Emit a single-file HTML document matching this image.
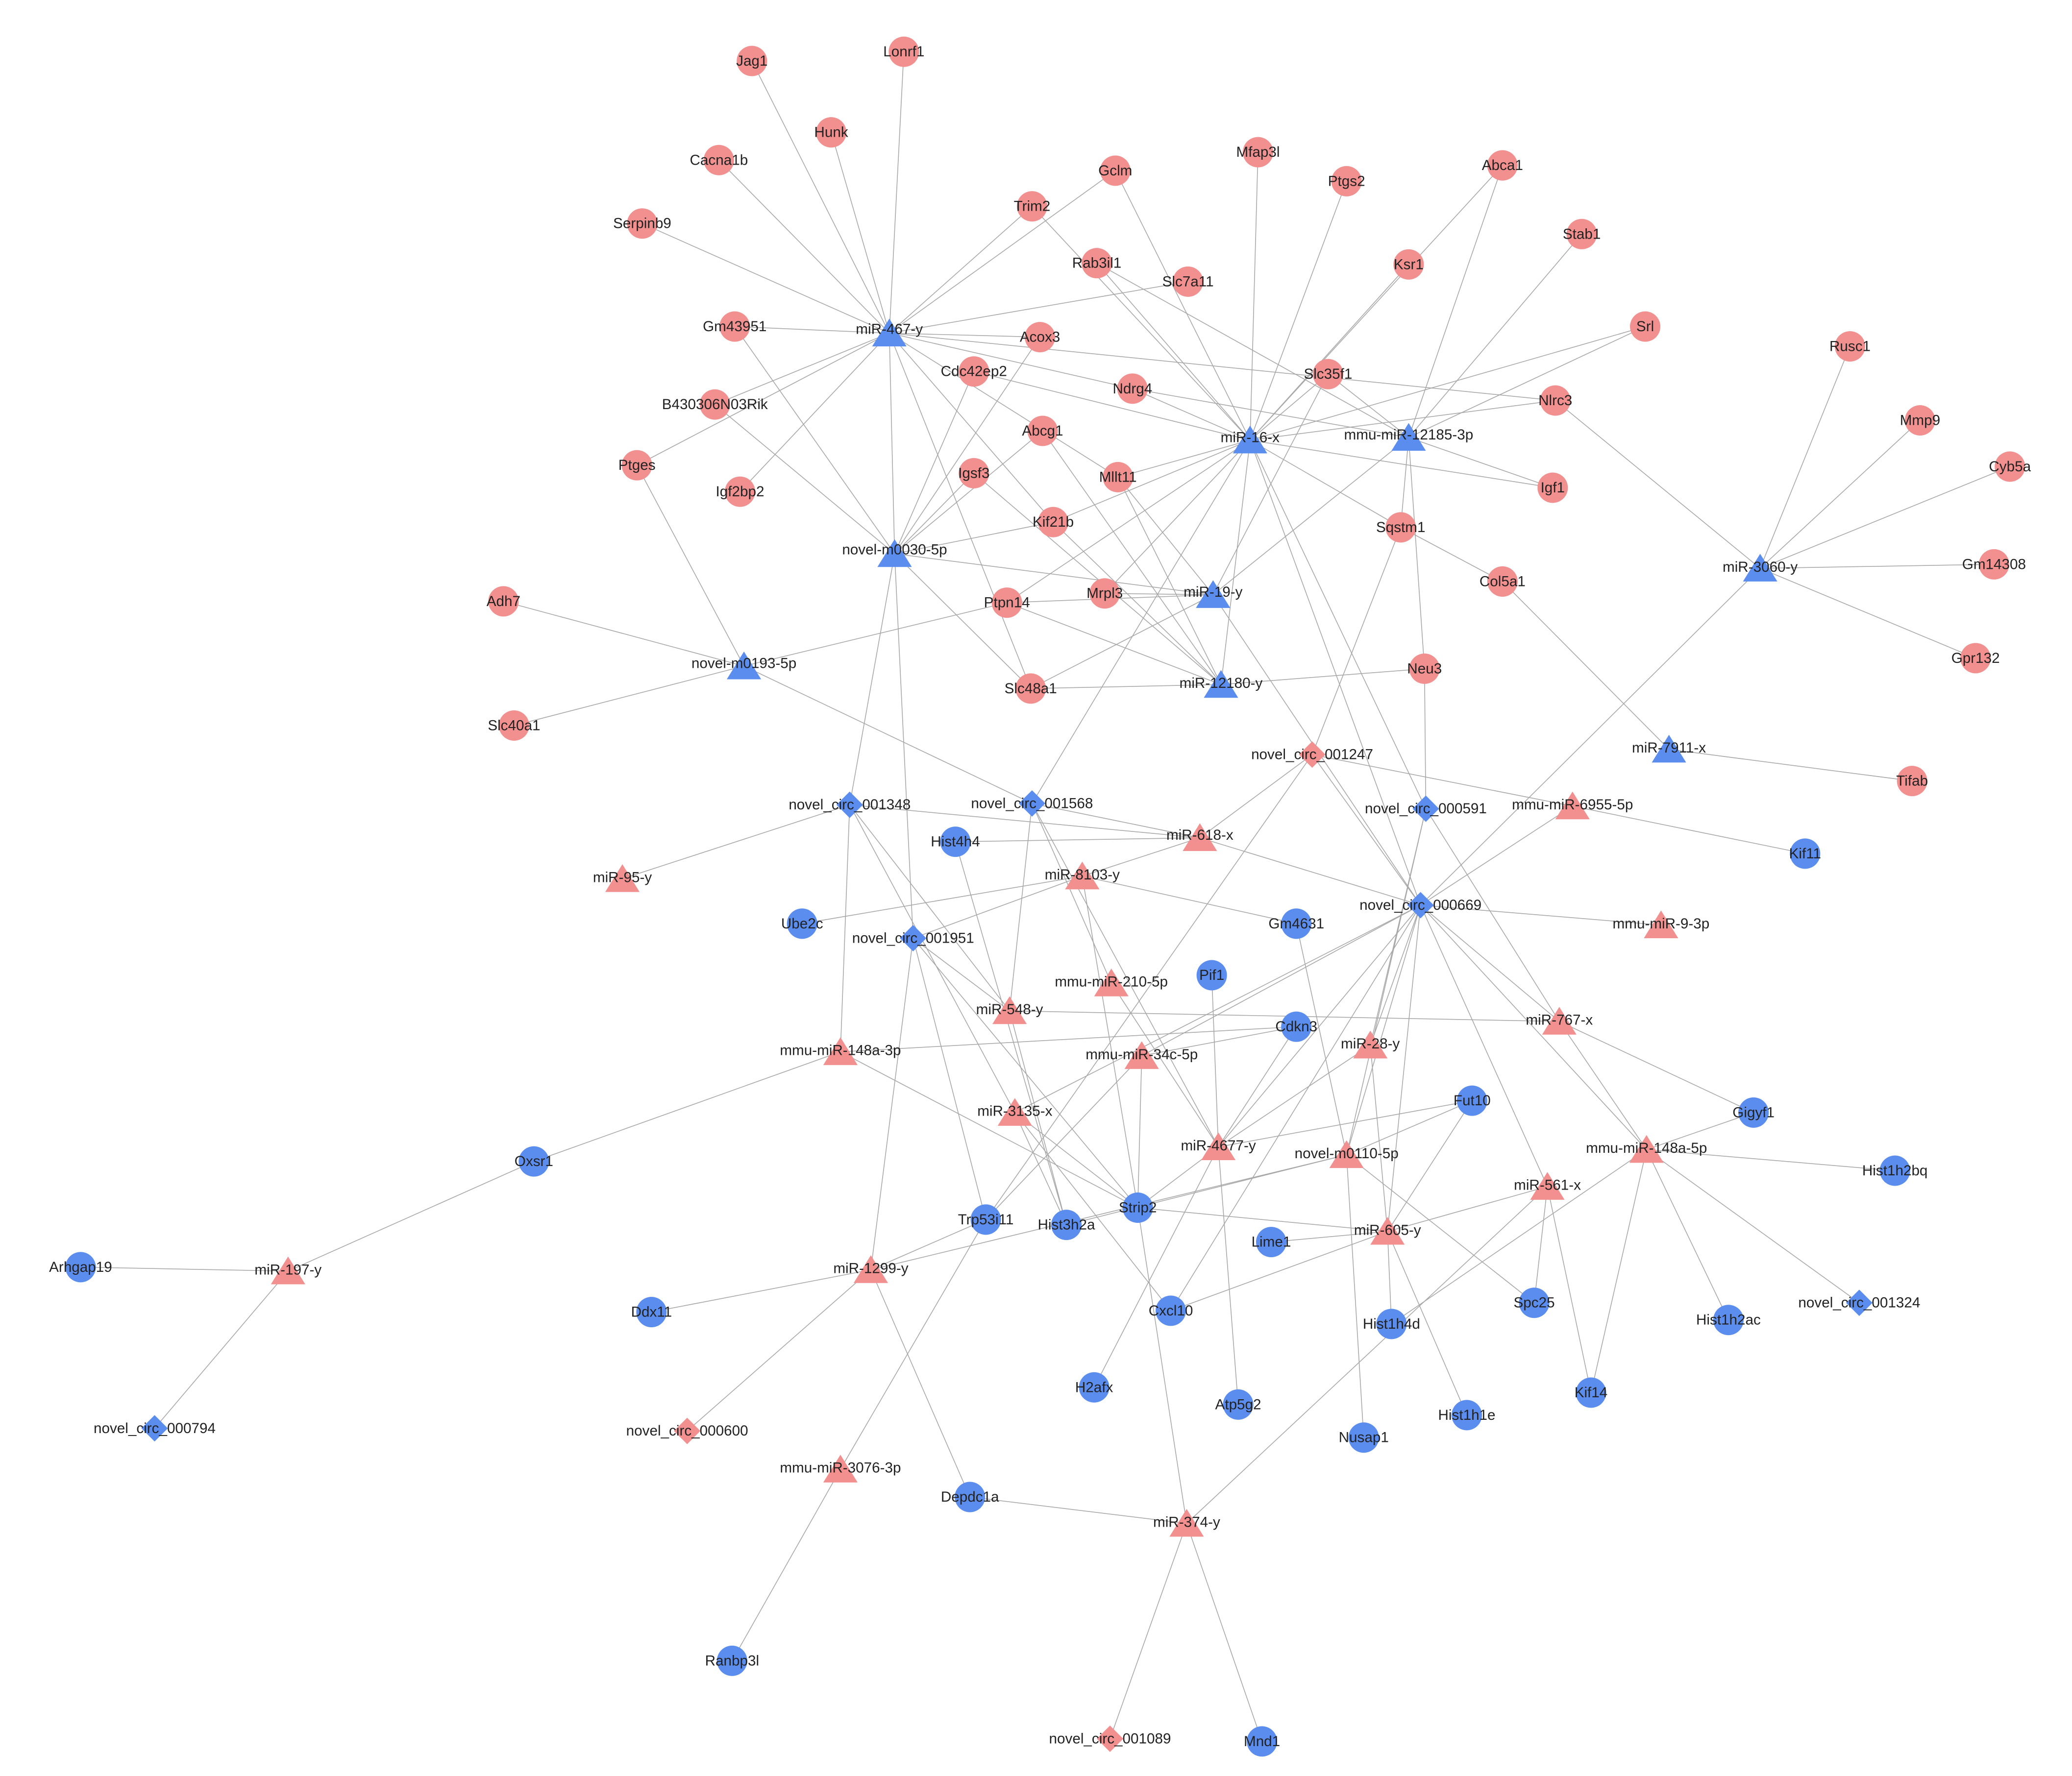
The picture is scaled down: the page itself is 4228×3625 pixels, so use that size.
<!DOCTYPE html>
<html><head><meta charset="utf-8"><style>html,body{margin:0;padding:0;background:#fff}svg{display:block}</style></head><body>
<svg width="4228" height="3625" viewBox="0 0 1568 1344" xmlns="http://www.w3.org/2000/svg" font-family="Liberation Sans, Arial, sans-serif" font-size="11">
<rect width="1568" height="1344" fill="#fff"/>
<g stroke="#a8a8a8" stroke-width="0.6">
<!-- miR-467-y -->
<line x1="673" y1="252" x2="569" y2="46"/><line x1="673" y1="252" x2="684" y2="39"/><line x1="673" y1="252" x2="629" y2="100"/><line x1="673" y1="252" x2="544" y2="121"/><line x1="673" y1="252" x2="486" y2="169"/><line x1="673" y1="252" x2="844" y2="129"/><line x1="673" y1="252" x2="781" y2="156"/><line x1="673" y1="252" x2="899" y2="213"/><line x1="673" y1="252" x2="556" y2="247"/><line x1="673" y1="252" x2="787" y2="255"/><line x1="673" y1="252" x2="857" y2="294"/><line x1="673" y1="252" x2="1177" y2="303"/><line x1="673" y1="252" x2="541" y2="306"/><line x1="673" y1="252" x2="482" y2="352"/><line x1="673" y1="252" x2="560" y2="372"/><line x1="673" y1="252" x2="797" y2="395"/><line x1="673" y1="252" x2="846" y2="361"/><line x1="673" y1="252" x2="780" y2="521"/><line x1="673" y1="252" x2="677" y2="419"/>
<!-- miR-16-x -->
<line x1="946" y1="333" x2="952" y2="115"/><line x1="946" y1="333" x2="1019" y2="137"/><line x1="946" y1="333" x2="1137" y2="125"/><line x1="946" y1="333" x2="830" y2="199"/><line x1="946" y1="333" x2="781" y2="156"/><line x1="946" y1="333" x2="844" y2="129"/><line x1="946" y1="333" x2="1066" y2="200"/><line x1="946" y1="333" x2="1005" y2="283"/><line x1="946" y1="333" x2="857" y2="294"/><line x1="946" y1="333" x2="737" y2="281"/><line x1="946" y1="333" x2="1177" y2="303"/><line x1="946" y1="333" x2="1175" y2="369"/><line x1="946" y1="333" x2="1060" y2="399"/><line x1="946" y1="333" x2="846" y2="361"/><line x1="946" y1="333" x2="797" y2="395"/><line x1="946" y1="333" x2="836" y2="449"/><line x1="946" y1="333" x2="762" y2="456"/><line x1="946" y1="333" x2="781" y2="608"/><line x1="946" y1="333" x2="1075" y2="685"/><line x1="946" y1="333" x2="924" y2="518"/><line x1="946" y1="333" x2="1245" y2="247"/>
<!-- 12185 -->
<line x1="1066" y1="331" x2="1245" y2="247"/><line x1="1066" y1="331" x2="1197" y2="177"/><line x1="1066" y1="331" x2="1005" y2="283"/><line x1="1066" y1="331" x2="830" y2="199"/><line x1="1066" y1="331" x2="857" y2="294"/><line x1="1066" y1="331" x2="1060" y2="399"/><line x1="1066" y1="331" x2="1175" y2="369"/><line x1="1066" y1="331" x2="918" y2="450"/><line x1="1066" y1="331" x2="1137" y2="125"/><line x1="1066" y1="331" x2="1078" y2="506"/>
<!-- m0030 -->
<line x1="677" y1="419" x2="556" y2="247"/><line x1="677" y1="419" x2="541" y2="306"/><line x1="677" y1="419" x2="737" y2="281"/><line x1="677" y1="419" x2="787" y2="255"/><line x1="677" y1="419" x2="789" y2="326"/><line x1="677" y1="419" x2="737" y2="358"/><line x1="677" y1="419" x2="797" y2="395"/><line x1="677" y1="419" x2="918" y2="450"/><line x1="677" y1="419" x2="780" y2="521"/><line x1="677" y1="419" x2="643" y2="609"/><line x1="677" y1="419" x2="691" y2="710"/>
<!-- m0193 -->
<line x1="563" y1="504" x2="381" y2="455"/><line x1="563" y1="504" x2="389" y2="549"/><line x1="563" y1="504" x2="482" y2="352"/><line x1="563" y1="504" x2="762" y2="456"/><line x1="563" y1="504" x2="781" y2="608"/>
<!-- miR-19 -->
<line x1="918" y1="450" x2="762" y2="456"/><line x1="918" y1="450" x2="836" y2="449"/><line x1="918" y1="450" x2="780" y2="521"/><line x1="918" y1="450" x2="846" y2="361"/><line x1="918" y1="450" x2="1075" y2="685"/><line x1="918" y1="450" x2="1005" y2="283"/>
<!-- 12180 -->
<line x1="924" y1="518" x2="780" y2="521"/><line x1="924" y1="518" x2="1078" y2="506"/><line x1="924" y1="518" x2="762" y2="456"/><line x1="924" y1="518" x2="789" y2="326"/><line x1="924" y1="518" x2="737" y2="358"/><line x1="924" y1="518" x2="846" y2="361"/><line x1="924" y1="518" x2="797" y2="395"/>
<!-- 3060 -->
<line x1="1332" y1="430" x2="1400" y2="262"/><line x1="1332" y1="430" x2="1453" y2="318"/><line x1="1332" y1="430" x2="1521" y2="353"/><line x1="1332" y1="430" x2="1509" y2="427"/><line x1="1332" y1="430" x2="1495" y2="498"/><line x1="1332" y1="430" x2="1177" y2="303"/><line x1="1332" y1="430" x2="1075" y2="685"/>
<!-- 7911 -->
<line x1="1263" y1="567" x2="1447" y2="591"/><line x1="1263" y1="567" x2="1137" y2="440"/><line x1="1060" y1="399" x2="1137" y2="440"/><line x1="1078" y1="506" x2="1079" y2="612"/>
<!-- circ 001247 -->
<line x1="993" y1="571" x2="1060" y2="399"/><line x1="993" y1="571" x2="1190" y2="610"/><line x1="993" y1="571" x2="908" y2="634"/><line x1="993" y1="571" x2="746" y2="923"/><line x1="993" y1="571" x2="1075" y2="685"/>
<!-- 000669 -->
<line x1="1075" y1="685" x2="1190" y2="610"/><line x1="1075" y1="685" x2="1257" y2="700"/><line x1="1075" y1="685" x2="1180" y2="773"/><line x1="1075" y1="685" x2="1037" y2="791"/><line x1="1075" y1="685" x2="922" y2="868"/><line x1="1075" y1="685" x2="1050" y2="932"/><line x1="1075" y1="685" x2="1171" y2="898"/><line x1="1075" y1="685" x2="768" y2="842"/><line x1="1075" y1="685" x2="1246" y2="870"/><line x1="1075" y1="685" x2="1019" y2="874"/><line x1="1075" y1="685" x2="908" y2="634"/><line x1="1075" y1="685" x2="864" y2="799"/>
<!-- 000591 -->
<line x1="1079" y1="612" x2="1037" y2="791"/><line x1="1079" y1="612" x2="1019" y2="874"/><line x1="1079" y1="612" x2="1180" y2="773"/><line x1="1079" y1="612" x2="946" y2="333"/>
<!-- 001348 -->
<line x1="643" y1="609" x2="471" y2="665"/><line x1="643" y1="609" x2="908" y2="634"/><line x1="643" y1="609" x2="636" y2="796"/><line x1="643" y1="609" x2="768" y2="842"/><line x1="643" y1="609" x2="764" y2="765"/>
<!-- 001568 -->
<line x1="781" y1="608" x2="908" y2="634"/><line x1="781" y1="608" x2="764" y2="765"/><line x1="781" y1="608" x2="922" y2="868"/><line x1="781" y1="608" x2="841" y2="744"/>
<!-- 001951 -->
<line x1="691" y1="710" x2="819" y2="663"/><line x1="691" y1="710" x2="764" y2="765"/><line x1="691" y1="710" x2="659" y2="961"/><line x1="691" y1="710" x2="861" y2="914"/><line x1="691" y1="710" x2="746" y2="923"/>
<!-- 8103 -->
<line x1="819" y1="663" x2="607" y2="699"/><line x1="819" y1="663" x2="981" y2="699"/><line x1="819" y1="663" x2="908" y2="634"/><line x1="819" y1="663" x2="861" y2="914"/>
<line x1="1190" y1="610" x2="1366" y2="646"/>
<line x1="723" y1="637" x2="908" y2="634"/><line x1="723" y1="637" x2="807" y2="927"/>
<line x1="764" y1="765" x2="1180" y2="773"/><line x1="764" y1="765" x2="807" y2="927"/>
<line x1="1180" y1="773" x2="1327" y2="842"/><line x1="1180" y1="773" x2="1246" y2="870"/>
<line x1="636" y1="796" x2="404" y2="879"/><line x1="636" y1="796" x2="861" y2="914"/><line x1="636" y1="796" x2="981" y2="777"/>
<line x1="404" y1="879" x2="218" y2="962"/><line x1="218" y1="962" x2="61" y2="959"/><line x1="218" y1="962" x2="117" y2="1081"/>
<line x1="768" y1="842" x2="861" y2="914"/><line x1="768" y1="842" x2="886" y2="992"/><line x1="768" y1="842" x2="807" y2="927"/>
<line x1="864" y1="799" x2="861" y2="914"/><line x1="864" y1="799" x2="746" y2="923"/><line x1="864" y1="799" x2="981" y2="777"/>
<line x1="922" y1="868" x2="917" y2="738"/><line x1="922" y1="868" x2="981" y2="777"/><line x1="922" y1="868" x2="841" y2="744"/><line x1="922" y1="868" x2="828" y2="1050"/><line x1="922" y1="868" x2="861" y2="914"/><line x1="922" y1="868" x2="1037" y2="791"/><line x1="922" y1="868" x2="1114" y2="833"/>
<line x1="1019" y1="874" x2="981" y2="699"/><line x1="1019" y1="874" x2="1114" y2="833"/><line x1="1019" y1="874" x2="1032" y2="1088"/><line x1="1019" y1="874" x2="807" y2="927"/><line x1="1019" y1="874" x2="1161" y2="986"/>
<line x1="1050" y1="932" x2="1114" y2="833"/><line x1="1050" y1="932" x2="886" y2="992"/><line x1="1050" y1="932" x2="1053" y2="1002"/><line x1="1050" y1="932" x2="1110" y2="1071"/><line x1="1050" y1="932" x2="1171" y2="898"/><line x1="1050" y1="932" x2="861" y2="914"/><line x1="1050" y1="932" x2="1037" y2="791"/><line x1="1050" y1="932" x2="962" y2="940"/>
<line x1="1171" y1="898" x2="1204" y2="1054"/><line x1="1171" y1="898" x2="1161" y2="986"/><line x1="1171" y1="898" x2="898" y2="1153"/>
<line x1="1246" y1="870" x2="1434" y2="886"/><line x1="1246" y1="870" x2="1308" y2="999"/><line x1="1246" y1="870" x2="1407" y2="986"/><line x1="1246" y1="870" x2="1327" y2="842"/><line x1="1246" y1="870" x2="1204" y2="1054"/><line x1="1246" y1="870" x2="1053" y2="1002"/>
<line x1="659" y1="961" x2="493" y2="993"/><line x1="659" y1="961" x2="520" y2="1083"/><line x1="659" y1="961" x2="734" y2="1133"/><line x1="659" y1="961" x2="746" y2="923"/><line x1="659" y1="961" x2="1019" y2="874"/>
<line x1="636" y1="1112" x2="554" y2="1257"/><line x1="636" y1="1112" x2="746" y2="923"/>
<line x1="898" y1="1153" x2="734" y2="1133"/><line x1="898" y1="1153" x2="840" y2="1316"/><line x1="898" y1="1153" x2="955" y2="1318"/><line x1="898" y1="1153" x2="861" y2="914"/>
<line x1="937" y1="1063" x2="922" y2="868"/><line x1="886" y1="992" x2="1075" y2="685"/>
</g>
<g fill="#f28f8f">
<circle cx="569" cy="46" r="11.5"/><circle cx="684" cy="39" r="11.5"/><circle cx="629" cy="100" r="11.5"/><circle cx="544" cy="121" r="11.5"/><circle cx="486" cy="169" r="11.5"/><circle cx="844" cy="129" r="11.5"/><circle cx="781" cy="156" r="11.5"/><circle cx="952" cy="115" r="11.5"/><circle cx="1019" cy="137" r="11.5"/><circle cx="1137" cy="125" r="11.5"/><circle cx="830" cy="199" r="11.5"/><circle cx="899" cy="213" r="11.5"/><circle cx="1066" cy="200" r="11.5"/><circle cx="1197" cy="177" r="11.5"/><circle cx="1245" cy="247" r="11.5"/><circle cx="556" cy="247" r="11.5"/><circle cx="787" cy="255" r="11.5"/><circle cx="737" cy="281" r="11.5"/><circle cx="857" cy="294" r="11.5"/><circle cx="1005" cy="283" r="11.5"/><circle cx="1400" cy="262" r="11.5"/><circle cx="1177" cy="303" r="11.5"/><circle cx="541" cy="306" r="11.5"/><circle cx="1453" cy="318" r="11.5"/><circle cx="1521" cy="353" r="11.5"/><circle cx="482" cy="352" r="11.5"/><circle cx="789" cy="326" r="11.5"/><circle cx="737" cy="358" r="11.5"/><circle cx="846" cy="361" r="11.5"/><circle cx="560" cy="372" r="11.5"/><circle cx="1175" cy="369" r="11.5"/><circle cx="797" cy="395" r="11.5"/><circle cx="1060" cy="399" r="11.5"/><circle cx="1509" cy="427" r="11.5"/><circle cx="1137" cy="440" r="11.5"/><circle cx="381" cy="455" r="11.5"/><circle cx="836" cy="449" r="11.5"/><circle cx="762" cy="456" r="11.5"/><circle cx="1078" cy="506" r="11.5"/><circle cx="1495" cy="498" r="11.5"/><circle cx="780" cy="521" r="11.5"/><circle cx="389" cy="549" r="11.5"/><circle cx="1447" cy="591" r="11.5"/>
<polygon points="993,561 1003,571 993,581 983,571"/><polygon points="520,1073 530,1083 520,1093 510,1083"/><polygon points="840,1306 850,1316 840,1326 830,1316"/>
<polygon points="1190,599 1203,620 1177,620"/><polygon points="908,623 921,644 895,644"/><polygon points="471,654 484,675 458,675"/><polygon points="819,652 832,673 806,673"/><polygon points="1257,689 1270,710 1244,710"/><polygon points="841,733 854,754 828,754"/><polygon points="764,754 777,775 751,775"/><polygon points="1180,762 1193,783 1167,783"/><polygon points="1037,780 1050,801 1024,801"/><polygon points="636,785 649,806 623,806"/><polygon points="864,788 877,809 851,809"/><polygon points="768,831 781,852 755,852"/><polygon points="922,857 935,878 909,878"/><polygon points="1019,863 1032,884 1006,884"/><polygon points="1246,859 1259,880 1233,880"/><polygon points="1171,887 1184,908 1158,908"/><polygon points="1050,921 1063,942 1037,942"/><polygon points="659,950 672,971 646,971"/><polygon points="218,951 231,972 205,972"/><polygon points="636,1101 649,1122 623,1122"/><polygon points="898,1142 911,1163 885,1163"/>
</g>
<g fill="#5b8def">
<polygon points="673,241 686,262 660,262"/><polygon points="946,322 959,343 933,343"/><polygon points="1066,320 1079,341 1053,341"/><polygon points="677,408 690,429 664,429"/><polygon points="918,439 931,460 905,460"/><polygon points="1332,419 1345,440 1319,440"/><polygon points="563,493 576,514 550,514"/><polygon points="924,507 937,528 911,528"/><polygon points="1263,556 1276,577 1250,577"/>
<polygon points="643,599 653,609 643,619 633,609"/><polygon points="781,598 791,608 781,618 771,608"/><polygon points="1079,602 1089,612 1079,622 1069,612"/><polygon points="1075,675 1085,685 1075,695 1065,685"/><polygon points="691,700 701,710 691,720 681,710"/><polygon points="1407,976 1417,986 1407,996 1397,986"/><polygon points="117,1071 127,1081 117,1091 107,1081"/>
<circle cx="723" cy="637" r="11.5"/><circle cx="1366" cy="646" r="11.5"/><circle cx="607" cy="699" r="11.5"/><circle cx="981" cy="699" r="11.5"/><circle cx="917" cy="738" r="11.5"/><circle cx="981" cy="777" r="11.5"/><circle cx="1327" cy="842" r="11.5"/><circle cx="1114" cy="833" r="11.5"/><circle cx="404" cy="879" r="11.5"/><circle cx="1434" cy="886" r="11.5"/><circle cx="746" cy="923" r="11.5"/><circle cx="807" cy="927" r="11.5"/><circle cx="861" cy="914" r="11.5"/><circle cx="962" cy="940" r="11.5"/><circle cx="61" cy="959" r="11.5"/><circle cx="493" cy="993" r="11.5"/><circle cx="886" cy="992" r="11.5"/><circle cx="1161" cy="986" r="11.5"/><circle cx="1308" cy="999" r="11.5"/><circle cx="1053" cy="1002" r="11.5"/><circle cx="828" cy="1050" r="11.5"/><circle cx="1204" cy="1054" r="11.5"/><circle cx="937" cy="1063" r="11.5"/><circle cx="1110" cy="1071" r="11.5"/><circle cx="1032" cy="1088" r="11.5"/><circle cx="734" cy="1133" r="11.5"/><circle cx="554" cy="1257" r="11.5"/><circle cx="955" cy="1318" r="11.5"/>
</g>
<g fill="#222" text-anchor="middle" dominant-baseline="central">
<text x="569" y="46">Jag1</text><text x="684" y="39">Lonrf1</text><text x="629" y="100">Hunk</text><text x="544" y="121">Cacna1b</text><text x="486" y="169">Serpinb9</text><text x="844" y="129">Gclm</text><text x="781" y="156">Trim2</text><text x="952" y="115">Mfap3l</text><text x="1019" y="137">Ptgs2</text><text x="1137" y="125">Abca1</text><text x="830" y="199">Rab3il1</text><text x="899" y="213">Slc7a11</text><text x="1066" y="200">Ksr1</text><text x="1197" y="177">Stab1</text><text x="1245" y="247">Srl</text><text x="556" y="247">Gm43951</text><text x="787" y="255">Acox3</text><text x="737" y="281">Cdc42ep2</text><text x="857" y="294">Ndrg4</text><text x="1005" y="283">Slc35f1</text><text x="1400" y="262">Rusc1</text><text x="1177" y="303">Nlrc3</text><text x="541" y="306">B430306N03Rik</text><text x="1453" y="318">Mmp9</text><text x="1521" y="353">Cyb5a</text><text x="482" y="352">Ptges</text><text x="789" y="326">Abcg1</text><text x="737" y="358">Igsf3</text><text x="846" y="361">Mllt11</text><text x="560" y="372">Igf2bp2</text><text x="1175" y="369">Igf1</text><text x="797" y="395">Kif21b</text><text x="1060" y="399">Sqstm1</text><text x="1509" y="427">Gm14308</text><text x="1137" y="440">Col5a1</text><text x="381" y="455">Adh7</text><text x="836" y="449">Mrpl3</text><text x="762" y="456">Ptpn14</text><text x="1078" y="506">Neu3</text><text x="1495" y="498">Gpr132</text><text x="780" y="521">Slc48a1</text><text x="389" y="549">Slc40a1</text><text x="1447" y="591">Tifab</text>
<text x="673" y="249">miR-467-y</text><text x="946" y="331">miR-16-x</text><text x="1066" y="329">mmu-miR-12185-3p</text><text x="677" y="416">novel-m0030-5p</text><text x="918" y="448">miR-19-y</text><text x="1332" y="429">miR-3060-y</text><text x="563" y="502">novel-m0193-5p</text><text x="924" y="517">miR-12180-y</text><text x="1263" y="566">miR-7911-x</text>
<text x="993" y="571">novel_circ_001247</text><text x="520" y="1083">novel_circ_000600</text><text x="840" y="1316">novel_circ_001089</text><text x="643" y="609">novel_circ_001348</text><text x="781" y="608">novel_circ_001568</text><text x="1079" y="612">novel_circ_000591</text><text x="1075" y="685">novel_circ_000669</text><text x="691" y="710">novel_circ_001951</text><text x="1407" y="986">novel_circ_001324</text><text x="117" y="1081">novel_circ_000794</text>
<text x="1190" y="609">mmu-miR-6955-5p</text><text x="908" y="632">miR-618-x</text><text x="471" y="664">miR-95-y</text><text x="819" y="662">miR-8103-y</text><text x="1257" y="699">mmu-miR-9-3p</text><text x="841" y="743">mmu-miR-210-5p</text><text x="764" y="764">miR-548-y</text><text x="1180" y="772">miR-767-x</text><text x="1037" y="790">miR-28-y</text><text x="636" y="795">mmu-miR-148a-3p</text><text x="864" y="798">mmu-miR-34c-5p</text><text x="768" y="841">miR-3135-x</text><text x="922" y="867">miR-4677-y</text><text x="1019" y="873">novel-m0110-5p</text><text x="1246" y="869">mmu-miR-148a-5p</text><text x="1171" y="897">miR-561-x</text><text x="1050" y="931">miR-605-y</text><text x="659" y="960">miR-1299-y</text><text x="218" y="961">miR-197-y</text><text x="636" y="1111">mmu-miR-3076-3p</text><text x="898" y="1152">miR-374-y</text>
<text x="723" y="637">Hist4h4</text><text x="1366" y="646">Kif11</text><text x="607" y="699">Ube2c</text><text x="981" y="699">Gm4631</text><text x="917" y="738">Pif1</text><text x="981" y="777">Cdkn3</text><text x="1327" y="842">Gigyf1</text><text x="1114" y="833">Fut10</text><text x="404" y="879">Oxsr1</text><text x="1434" y="886">Hist1h2bq</text><text x="746" y="923">Trp53i11</text><text x="807" y="927">Hist3h2a</text><text x="861" y="914">Strip2</text><text x="962" y="940">Lime1</text><text x="61" y="959">Arhgap19</text><text x="493" y="993">Ddx11</text><text x="886" y="992">Cxcl10</text><text x="1161" y="986">Spc25</text><text x="1308" y="999">Hist1h2ac</text><text x="1053" y="1002">Hist1h4d</text><text x="828" y="1050">H2afx</text><text x="1204" y="1054">Kif14</text><text x="937" y="1063">Atp5g2</text><text x="1110" y="1071">Hist1h1e</text><text x="1032" y="1088">Nusap1</text><text x="734" y="1133">Depdc1a</text><text x="554" y="1257">Ranbp3l</text><text x="955" y="1318">Mnd1</text>
</g>
</svg>
</body></html>
